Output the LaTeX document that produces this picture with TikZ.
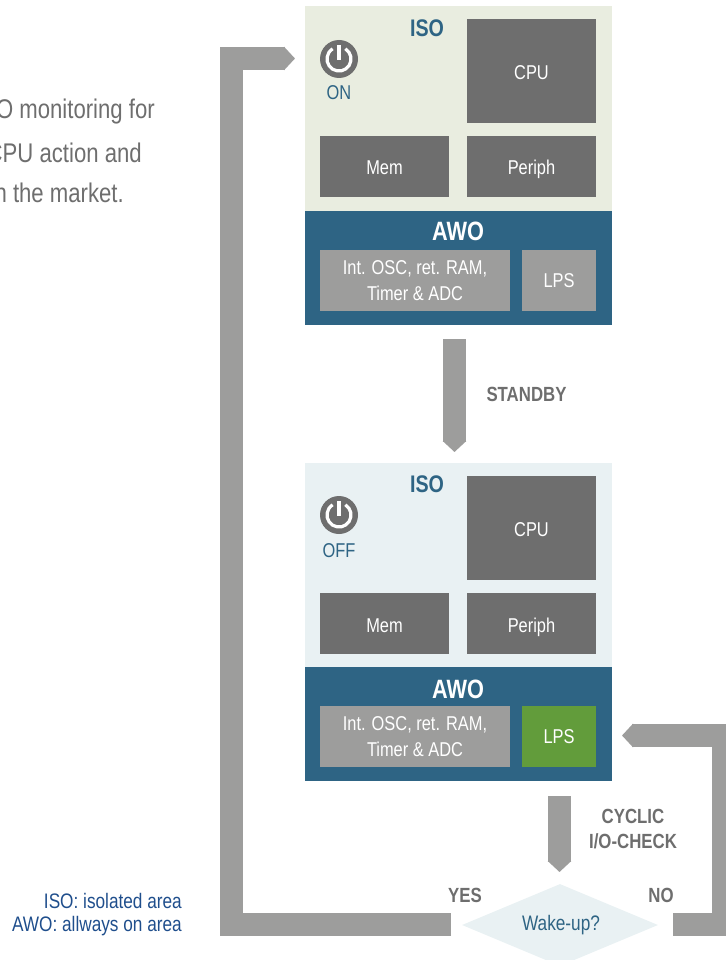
\documentclass[tikz,border=0pt]{standalone}
\usepackage{fontspec}
\setmainfont{Liberation Sans}[FakeStretch=0.82]
\usetikzlibrary{arrows.meta,shapes.geometric}
\definecolor{isoon}{HTML}{E9EDE0}
\definecolor{isooff}{HTML}{E9F1F3}
\definecolor{awoblue}{HTML}{2E6484}
\definecolor{dgrey}{HTML}{6E6E6E}
\definecolor{lgrey}{HTML}{9D9D9C}
\definecolor{lpsgreen}{HTML}{629C3B}
\definecolor{legendblue}{HTML}{1F4E8C}
\tikzset{
  x=1pt,y=-1pt,
  box/.style={minimum width=#1,inner sep=0pt,outer sep=0pt,align=center,text=white,font=\fontsize{20}{26}\selectfont},
  darkbox/.style={box=129pt,fill=dgrey,minimum height=61pt,text height=17pt,text depth=0pt},
  cpubox/.style={box=129pt,fill=dgrey,minimum height=104pt,text height=16.5pt,text depth=0pt},
  intbox/.style={box=190pt,fill=lgrey,minimum height=61pt},
  lpsbox/.style={box=74pt,fill=lgrey,minimum height=61pt},
  panel/.style={minimum width=307pt,inner sep=0pt,outer sep=0pt},
  head/.style={font=\bfseries\fontsize{24}{28}\selectfont},
  awohead/.style={text=white,font=\bfseries\fontsize{26.5}{28}\selectfont},
  statelabel/.style={text=awoblue,font=\fontsize{20}{22}\selectfont},
  greylabel/.style={text=dgrey,align=center,font=\bfseries\fontsize{20.5}{25}\selectfont},
  blockarrow/.style={draw=lgrey,line width=23pt,line join=miter,-{Triangle[length=11pt,width=23pt,sep=0pt]}},
  powerdisc/.style={circle,fill=dgrey,minimum size=38pt,inner sep=0pt,outer sep=0pt},
  powerline/.style={draw=white,line width=3.2pt},
  bodytext/.style={text=dgrey,anchor=east,inner sep=0pt,font=\fontsize{27}{30}\selectfont},
  legend/.style={text=legendblue,anchor=east,inner sep=0pt,font=\fontsize{21}{22}\selectfont},
}
\newcommand{\powericon}[1]{%
  \node[powerdisc] (#1) at (#1pos) {};
  \draw[powerline] ([shift={(58:12pt)}]#1.center) arc[start angle=58,end angle=-238,radius=12pt];
  \draw[powerline] ([yshift=14pt]#1.center) -- ([yshift=-1pt]#1.center);
}
\begin{document}
\begin{tikzpicture}
\useasboundingbox (0,0) rectangle (725,960);
% left text, cut by the page edge
\node[bodytext] (t1) at (155,112) {O monitoring for};
\node[bodytext] (t2) at (142,153) {CPU action and};
\node[bodytext] (t3) at (124,193) {n the market.};
% upper block
\node[panel,fill=isoon,minimum height=205pt] (iso1) at (458.5,108.5) {};
\node[panel,fill=awoblue,minimum height=114pt] (awo1) at (458.5,268) {};
\node[head,text=awoblue] (isol1) at (427,28) {ISO};
\node[awohead] (awol1) at (458,231) {AWO};
\node[cpubox] (cpu1) at (531.5,71) {CPU};
\node[darkbox] (mem1) at (384.5,166.5) {Mem};
\node[darkbox] (per1) at (531.5,166.5) {Periph};
\node[intbox] (int1) at (415,280.5) {Int. OSC, ret. RAM,\\Timer \& ADC};
\node[lpsbox] (lps1) at (559,280.5) {LPS};
\coordinate (ponepos) at (339,59);
\powericon{pone}
\node[statelabel] (on) at (339,93) {ON};
% lower block
\node[panel,fill=isooff,minimum height=204pt] (iso2) at (458.5,565) {};
\node[panel,fill=awoblue,minimum height=114pt] (awo2) at (458.5,724) {};
\node[head,text=awoblue] (isol2) at (427,484) {ISO};
\node[awohead] (awol2) at (458,689) {AWO};
\node[cpubox] (cpu2) at (531.5,528) {CPU};
\node[darkbox] (mem2) at (384.5,623.5) {Mem};
\node[darkbox] (per2) at (531.5,623.5) {Periph};
\node[intbox] (int2) at (415,736.5) {Int. OSC, ret. RAM,\\Timer \& ADC};
\node[lpsbox,fill=lpsgreen] (lps2) at (559,736.5) {LPS};
\coordinate (ptwopos) at (339,515);
\powericon{ptwo}
\node[statelabel] (off) at (339,551) {OFF};
% decision
\node[diamond,aspect=2.39,fill=isooff,inner sep=0pt,minimum width=196pt,minimum height=82pt] (wake) at (560,925) {};
\node[statelabel,font=\fontsize{21}{22}\selectfont] (wakel) at (561,925) {Wake-up?};
% connectors
\coordinate (standbya) at (454.5,339);
\coordinate (standbyb) at (454.5,452);
\draw[blockarrow] (standbya) -- (standbyb);
\coordinate (checka) at (559.5,796);
\coordinate (checkb) at (559.5,872);
\draw[blockarrow] (checka) -- (checkb);
\coordinate (yesa) at (451,924.5);
\coordinate (yesc) at (231,924.5);
\coordinate (yesb) at (295,58.5);
\draw[blockarrow] (yesa) -- (yesc) |- (yesb);
\coordinate (noa) at (673,924.5);
\coordinate (noc) at (723.5,924.5);
\coordinate (nob) at (622,735.5);
\draw[blockarrow] (noa) -- (noc) |- (nob);
% labels
\node[greylabel] (standby) at (526.5,394) {STANDBY};
\node[greylabel] (cyclic) at (633,829.5) {CYCLIC\\I/O-CHECK};
\node[greylabel] (yes) at (465,895) {YES};
\node[greylabel] (no) at (661,895) {NO};
\node[legend] (leg1) at (182,901) {ISO: isolated area};
\node[legend] (leg2) at (182,926) {AWO: allways on area};
\end{tikzpicture}
\end{document}
